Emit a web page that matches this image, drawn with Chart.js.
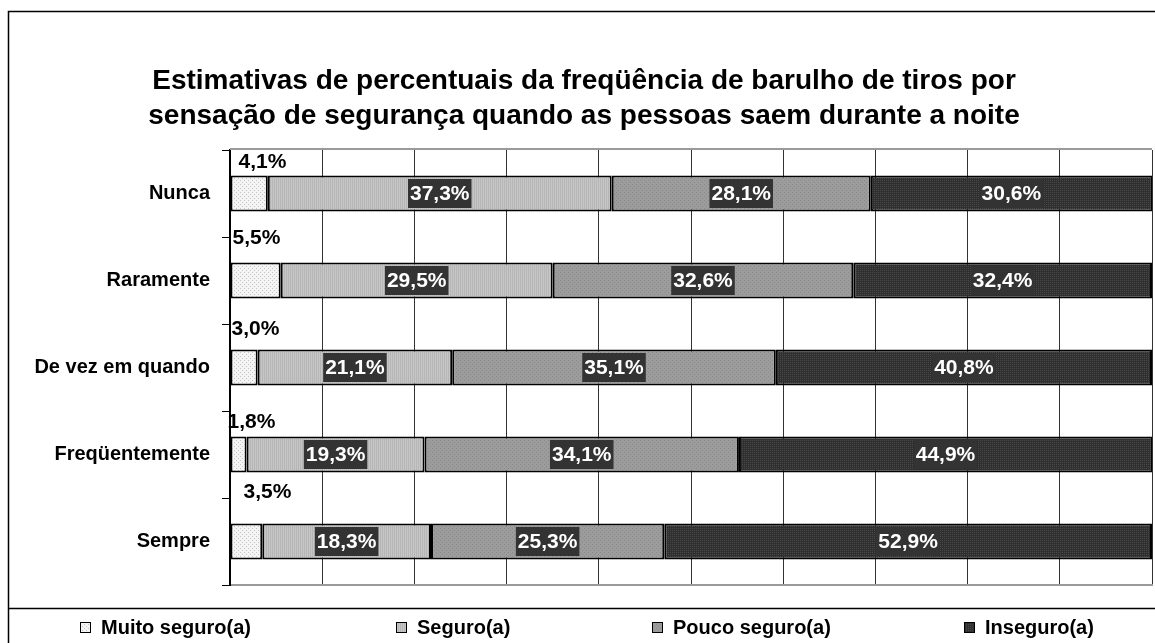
<!DOCTYPE html>
<html lang="pt">
<head>
<meta charset="utf-8">
<title>Barulho de tiros por sensação de segurança</title>
<script src="https://cdn.jsdelivr.net/npm/chart.js@4/dist/chart.umd.min.js"></script>
<style>
  html, body { margin: 0; padding: 0; background: #fff; }
  #wrap { width: 1155px; height: 643px; position: relative; }
</style>
</head>
<body>
<div id="wrap"><canvas id="chart" width="1155" height="643"></canvas></div>
<script>
// Frequência de barulho de tiros (linhas) x sensação de segurança (séries), em %
const categories = ['Nunca', 'Raramente', 'De vez em quando', 'Freqüentemente', 'Sempre'];
const seriesNames = ['Muito seguro(a)', 'Seguro(a)', 'Pouco seguro(a)', 'Inseguro(a)'];
const muitoSeguro = [4.1, 5.5, 3.0, 1.8, 3.5];
const seguro      = [37.3, 29.5, 21.1, 19.3, 18.3];
const poucoSeguro = [28.1, 32.6, 35.1, 34.1, 25.3];
const inseguro    = [30.6, 32.4, 40.8, 44.9, 52.9];
const titleLines = [
  'Estimativas de percentuais da freqüência de barulho de tiros por',
  'sensação de segurança quando as pessoas saem durante a noite'
];

// Where the small "Muito seguro" labels sit, relative to the left/top of their bar
const smallLabelShift = [[32, -13], [26, -24], [25, -20], [21, -14], [37, -31]];

const FONT = "'Liberation Sans', Arial, Helvetica, sans-serif";

// Textured fills, similar to the hatched greys of an office chart
function makePattern(bg, fg, kind) {
  const c = document.createElement('canvas');
  c.width = 4; c.height = 4;
  const g = c.getContext('2d');
  g.fillStyle = bg; g.fillRect(0, 0, 4, 4);
  g.fillStyle = fg;
  if (kind === 'dots') {
    g.fillRect(0, 0, 1, 1); g.fillRect(2, 2, 1, 1);
  } else if (kind === 'vlines') {
    g.fillRect(0, 0, 1, 4); g.fillRect(2, 0, 1, 4);
  } else if (kind === 'grid') {
    g.fillRect(0, 0, 1, 1); g.fillRect(2, 0, 1, 1); g.fillRect(0, 2, 1, 1); g.fillRect(2, 2, 1, 1);
  }
  return g.createPattern(c, 'repeat');
}
const fills = [
  makePattern('#f4f4f4', '#c4c4c4', 'dots'),
  makePattern('#c6c6c6', '#b6b6b6', 'vlines'),
  makePattern('#9c9c9c', '#8a8a8a', 'dots'),
  makePattern('#2f2f2f', '#4a4a4a', 'grid')
];
const seriesValues = [muitoSeguro, seguro, poucoSeguro, inseguro];

const fmt = v => v.toFixed(1).replace('.', ',') + '%';

// Outer frame, top plot line and the legend strip
const framePlugin = {
  id: 'frame',
  beforeDraw(chart) {
    const ctx = chart.ctx;
    ctx.save();
    ctx.fillStyle = '#fff';
    ctx.fillRect(0, 0, chart.width, chart.height);
    ctx.strokeStyle = '#000';
    ctx.lineWidth = 1.5;
    ctx.strokeRect(8.5, 11.5, chart.width + 40, chart.height + 40);
    ctx.beginPath();
    ctx.moveTo(8, 608.5); ctx.lineTo(chart.width, 608.5);
    ctx.stroke();
    ctx.restore();
  },
  afterDraw(chart) {
    const ctx = chart.ctx;
    const a = chart.chartArea;
    ctx.save();
    ctx.strokeStyle = '#9a9a9a';
    ctx.lineWidth = 2;
    ctx.beginPath();
    ctx.moveTo(a.left, a.top - 1); ctx.lineTo(a.right, a.top - 1);
    ctx.stroke();
    // legend
    const cellLeft = 21, cellW = 288, box = 10, gap = 11, y = 627;
    ctx.font = 'bold 20px ' + FONT;
    ctx.textBaseline = 'middle';
    ctx.textAlign = 'left';
    chart.data.datasets.forEach((ds, i) => {
      const tw = ctx.measureText(ds.label).width;
      const total = box + gap + tw;
      const x0 = Math.round(cellLeft + cellW * (i + 0.5) - total / 2);
      ctx.fillStyle = ds.backgroundColor;
      ctx.fillRect(x0, y - 5, box, box);
      ctx.strokeStyle = '#000';
      ctx.lineWidth = 1;
      ctx.strokeRect(x0 + 0.5, y - 4.5, box, box);
      ctx.fillStyle = '#000';
      ctx.fillText(ds.label, x0 + box + gap, y + 1);
    });
    ctx.restore();
  }
};

// Value labels on the segments
const labelPlugin = {
  id: 'segLabels',
  afterDatasetsDraw(chart) {
    const ctx = chart.ctx;
    ctx.save();
    ctx.font = 'bold 21px ' + FONT;
    ctx.textBaseline = 'middle';
    ctx.textAlign = 'center';
    chart.data.datasets.forEach((ds, di) => {
      const meta = chart.getDatasetMeta(di);
      meta.data.forEach((bar, i) => {
        const v = ds.data[i];
        const txt = fmt(v);
        const left = Math.min(bar.x, bar.base);
        const top = bar.y - bar.height / 2;
        if (di === 0) {
          const [dx, dy] = smallLabelShift[i];
          ctx.fillStyle = '#000';
          ctx.fillText(txt, left + dx, top + dy);
        } else {
          const right = Math.min(Math.max(bar.x, bar.base), chart.chartArea.right);
          const cx = (left + right) / 2;
          const w = ctx.measureText(txt).width + 4;
          ctx.fillStyle = '#333';
          ctx.fillRect(cx - w / 2, bar.y - 14.5, w, 29);
          ctx.fillStyle = '#fff';
          ctx.fillText(txt, cx, bar.y + 1);
        }
      });
    });
    ctx.restore();
  }
};

new Chart(document.getElementById('chart'), {
  type: 'bar',
  data: {
    labels: categories,
    datasets: seriesNames.map((name, i) => ({
      label: name,
      data: seriesValues[i],
      backgroundColor: fills[i],
      borderColor: '#000',
      borderWidth: 2,
      borderSkipped: false,
      categoryPercentage: 1,
      barPercentage: 0.414
    }))
  },
  options: {
    indexAxis: 'y',
    responsive: false,
    animation: false,
    devicePixelRatio: 1,
    layout: { padding: { left: 16, right: 3, top: 0, bottom: 58 } },
    plugins: {
      legend: { display: false },
      tooltip: { enabled: false },
      title: {
        display: true,
        text: titleLines,
        color: '#000',
        font: { family: FONT, size: 28, weight: 'bold', lineHeight: 1.25 },
        padding: { top: 64, bottom: 16 }
      }
    },
    scales: {
      x: {
        stacked: true,
        min: 0,
        max: 100,
        ticks: { display: false, stepSize: 10 },
        grid: { color: '#333', lineWidth: 1, drawTicks: false },
        border: { display: true, color: '#9a9a9a', width: 2 }
      },
      y: {
        stacked: true,
        afterFit(scale) { scale.width = 214; },
        ticks: {
          color: '#000',
          padding: 12,
          font: { family: FONT, size: 20, weight: 'bold' }
        },
        grid: { drawOnChartArea: false, drawTicks: true, tickLength: 8, color: '#000', offset: true },
        border: { display: true, color: '#000', width: 2 }
      }
    }
  },
  plugins: [framePlugin, labelPlugin]
});
</script>
</body>
</html>
